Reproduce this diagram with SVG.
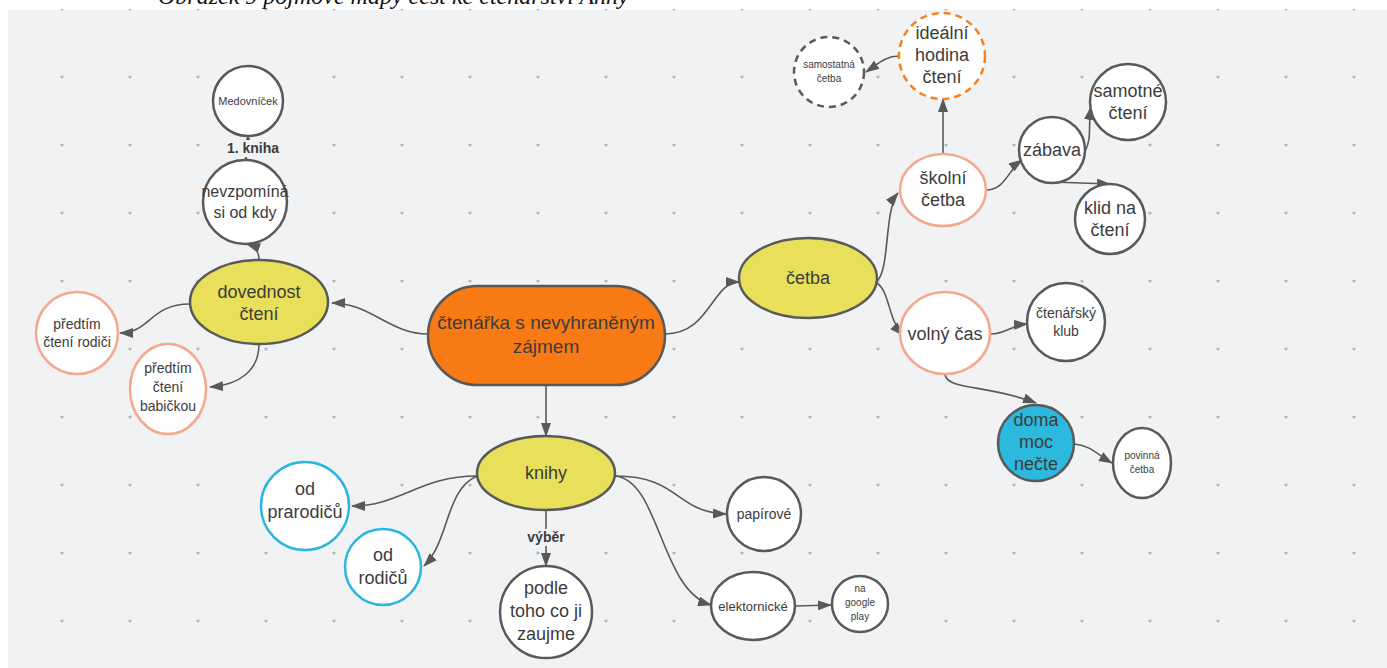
<svg xmlns="http://www.w3.org/2000/svg" width="1387" height="668" viewBox="0 0 1387 668">
  <defs>
    <pattern id="grid" x="28" y="-25" width="68" height="68" patternUnits="userSpaceOnUse">
      <circle cx="34" cy="34" r="1.6" fill="#b4b6ba"/>
    </pattern>
    <marker id="arr" viewBox="0 0 14 10" refX="13" refY="5" markerWidth="14" markerHeight="10" markerUnits="userSpaceOnUse" orient="auto">
      <path d="M0,0 L14,5 L0,10 Z" fill="#595959"/>
    </marker>
  </defs>
  <style>
    .t{font-family:"Liberation Sans",Arial,sans-serif;fill:#3c3c3c;text-anchor:middle}
    .lbl{font-family:"Liberation Sans",Arial,sans-serif;fill:#3c3c3c;text-anchor:middle;font-weight:bold;font-size:14px}
    .plain{fill:#ffffff;stroke:#595959;stroke-width:2.5}
    .yel{fill:#e8df5b;stroke:#595959;stroke-width:2.5}
    .sal{fill:#ffffff;stroke:#f4a88e;stroke-width:2.5}
    .blu{fill:#ffffff;stroke:#2db6dd;stroke-width:2.5}
    .edge{fill:none;stroke:#595959;stroke-width:1.6;marker-end:url(#arr)}
  </style>

  <!-- page and canvas -->
  <rect width="1387" height="668" fill="#ffffff"/>
  <text x="158" y="4" font-family="Liberation Serif,serif" font-style="italic" font-size="24" fill="#111">Obrázek 9 pojmové mapy cest ke čtenářství Anny</text>
  <rect x="8" y="10" width="1379" height="658" fill="#f1f2f4"/>
  <rect x="8" y="9" width="1379" height="659" fill="url(#grid)"/>

  <!-- connectors -->
  <g id="connectors">
    <path class="edge" d="M428,334 C390,334 370,303 332,303"/>
    <path class="edge" d="M665,334 C710,334 712,282 739,282"/>
    <path class="edge" d="M546,385 L546,436"/>
    <path class="edge" d="M259,260 C259,252 256,247 247,244"/>
    <path class="edge" d="M246,160 L246,156"/>
    <path class="edge" d="M248,140 L248,135"/>
    <path class="edge" d="M190,304 C150,304 150,333 120,333"/>
    <path class="edge" d="M259,344 C259,370 240,385 210,387"/>
    <path class="edge" d="M877,281 C890,270 884,210 898,193"/>
    <path class="edge" d="M877,283 C890,292 888,320 903,335"/>
    <path class="edge" d="M943,153 L943,99"/>
    <path class="edge" d="M899,56 C885,56 878,64 866,72"/>
    <path class="edge" d="M986,190 C1005,190 1008,170 1022,160"/>
    <path class="edge" d="M1085,151 C1092,140 1088,125 1091,107"/>
    <path class="edge" d="M1052,182 L1110,184"/>
    <path class="edge" d="M991,334 C1005,334 1012,325 1027,324"/>
    <path class="edge" d="M945,375 C948,390 990,385 1036,403"/>
    <path class="edge" d="M1074,444 C1090,445 1098,455 1112,463"/>
    <path class="edge" d="M477,476 C420,476 400,506 352,506"/>
    <path class="edge" d="M477,476 C445,490 450,540 424,566"/>
    <path class="edge" d="M546,510 L546,566"/>
    <path class="edge" d="M615,476 C680,476 675,512 726,514"/>
    <path class="edge" d="M615,476 C660,480 660,590 711,605"/>
    <path class="edge" d="M795,606 L831,605"/>
  </g>

  <!-- edge labels -->
  <g id="edge-labels">
    <rect x="222" y="140" width="62" height="17" fill="#f1f2f4"/>
    <text class="lbl" x="253" y="153">1. kniha</text>
    <rect x="522" y="529" width="48" height="17" fill="#f1f2f4"/>
    <text class="lbl" x="546" y="542">výběr</text>
  </g>

  <!-- central node -->
  <g id="n-center">
    <rect x="428" y="286" width="237" height="99" rx="49.5" fill="#f77a14" stroke="#595959" stroke-width="2.5"/>
    <text class="t" x="546" y="329" font-size="19">čtenářka s nevyhraněným</text>
    <text class="t" x="546" y="353" font-size="19">zájmem</text>
  </g>

  <!-- main branches -->
  <g id="n-dovednost">
    <ellipse class="yel" cx="259" cy="302" rx="69" ry="42"/>
    <text class="t" x="259" y="298" font-size="18">dovednost</text>
    <text class="t" x="259" y="320" font-size="18">čtení</text>
  </g>
  <g id="n-cetba">
    <ellipse class="yel" cx="808" cy="278" rx="69" ry="40"/>
    <text class="t" x="808" y="284" font-size="18">četba</text>
  </g>
  <g id="n-knihy">
    <ellipse class="yel" cx="546" cy="473" rx="69" ry="37"/>
    <text class="t" x="546" y="479" font-size="18">knihy</text>
  </g>

  <!-- dovednost čtení branch -->
  <g id="n-nevzpomina">
    <circle class="plain" cx="245" cy="202" r="42"/>
    <text class="t" x="245" y="197" font-size="16">nevzpomíná</text>
    <text class="t" x="245" y="218" font-size="16">si od kdy</text>
  </g>
  <g id="n-medovnicek">
    <circle class="plain" cx="248" cy="101" r="35"/>
    <text class="t" x="248" y="105" font-size="11">Medovníček</text>
  </g>
  <g id="n-rodici">
    <circle class="sal" cx="77" cy="333" r="41"/>
    <text class="t" x="77" y="329" font-size="14">předtím</text>
    <text class="t" x="77" y="347" font-size="14">čtení rodiči</text>
  </g>
  <g id="n-babickou">
    <ellipse class="sal" cx="168" cy="389" rx="38" ry="45"/>
    <text class="t" x="168" y="373" font-size="14">předtím</text>
    <text class="t" x="168" y="392" font-size="14">čtení</text>
    <text class="t" x="168" y="411" font-size="14">babičkou</text>
  </g>

  <!-- četba branch -->
  <g id="n-samostatna">
    <circle cx="829" cy="72" r="35" fill="#ffffff" stroke="#595959" stroke-width="2.5" stroke-dasharray="7,5"/>
    <text class="t" x="829" y="68" font-size="10">samostatná</text>
    <text class="t" x="829" y="82" font-size="10">četba</text>
  </g>
  <g id="n-idealni">
    <circle cx="942" cy="56" r="43" fill="#ffffff" stroke="#f5821f" stroke-width="2.5" stroke-dasharray="7,5"/>
    <text class="t" x="942" y="39" font-size="18">ideální</text>
    <text class="t" x="942" y="61" font-size="18">hodina</text>
    <text class="t" x="942" y="83" font-size="18">čtení</text>
  </g>
  <g id="n-skolni">
    <ellipse class="sal" cx="943" cy="190" rx="43" ry="36"/>
    <text class="t" x="943" y="184" font-size="18">školní</text>
    <text class="t" x="943" y="206" font-size="18">četba</text>
  </g>
  <g id="n-zabava">
    <circle class="plain" cx="1052" cy="150" r="33"/>
    <text class="t" x="1052" y="156" font-size="18">zábava</text>
  </g>
  <g id="n-samotne">
    <circle class="plain" cx="1128" cy="102" r="38"/>
    <text class="t" x="1128" y="97" font-size="18">samotné</text>
    <text class="t" x="1128" y="119" font-size="18">čtení</text>
  </g>
  <g id="n-klid">
    <circle class="plain" cx="1110" cy="219" r="35"/>
    <text class="t" x="1110" y="214" font-size="18">klid na</text>
    <text class="t" x="1110" y="236" font-size="18">čtení</text>
  </g>
  <g id="n-volny">
    <ellipse class="sal" cx="945" cy="333" rx="45" ry="41"/>
    <text class="t" x="945" y="340" font-size="18">volný čas</text>
  </g>
  <g id="n-klub">
    <circle class="plain" cx="1066" cy="322" r="39"/>
    <text class="t" x="1066" y="318" font-size="14">čtenářský</text>
    <text class="t" x="1066" y="336" font-size="14">klub</text>
  </g>
  <g id="n-doma">
    <circle cx="1036" cy="443" r="38" fill="#2bb9dd" stroke="#595959" stroke-width="2.5"/>
    <text class="t" x="1036" y="426" font-size="18">doma</text>
    <text class="t" x="1036" y="448" font-size="18">moc</text>
    <text class="t" x="1036" y="470" font-size="18">nečte</text>
  </g>
  <g id="n-povinna">
    <ellipse class="plain" cx="1142" cy="463" rx="29" ry="35"/>
    <text class="t" x="1142" y="459" font-size="10">povinná</text>
    <text class="t" x="1142" y="473" font-size="10">četba</text>
  </g>

  <!-- knihy branch -->
  <g id="n-prarodicu">
    <circle class="blu" cx="305" cy="506" r="44"/>
    <text class="t" x="305" y="495" font-size="18">od</text>
    <text class="t" x="305" y="518" font-size="18">prarodičů</text>
  </g>
  <g id="n-rodicu">
    <circle class="blu" cx="383" cy="567" r="38"/>
    <text class="t" x="383" y="561" font-size="18">od</text>
    <text class="t" x="383" y="584" font-size="18">rodičů</text>
  </g>
  <g id="n-podle">
    <circle class="plain" cx="546" cy="612" r="46"/>
    <text class="t" x="546" y="594" font-size="18">podle</text>
    <text class="t" x="546" y="617" font-size="18">toho co ji</text>
    <text class="t" x="546" y="640" font-size="18">zaujme</text>
  </g>
  <g id="n-papirove">
    <circle class="plain" cx="764" cy="514" r="37"/>
    <text class="t" x="764" y="519" font-size="14">papírové</text>
  </g>
  <g id="n-elektronicke">
    <ellipse class="plain" cx="753" cy="606" rx="42" ry="34"/>
    <text class="t" x="753" y="611" font-size="13">elektornické</text>
  </g>
  <g id="n-google">
    <circle class="plain" cx="860" cy="604" r="28"/>
    <text class="t" x="860" y="592" font-size="10">na</text>
    <text class="t" x="860" y="606" font-size="10">google</text>
    <text class="t" x="860" y="620" font-size="10">play</text>
  </g>
</svg>
